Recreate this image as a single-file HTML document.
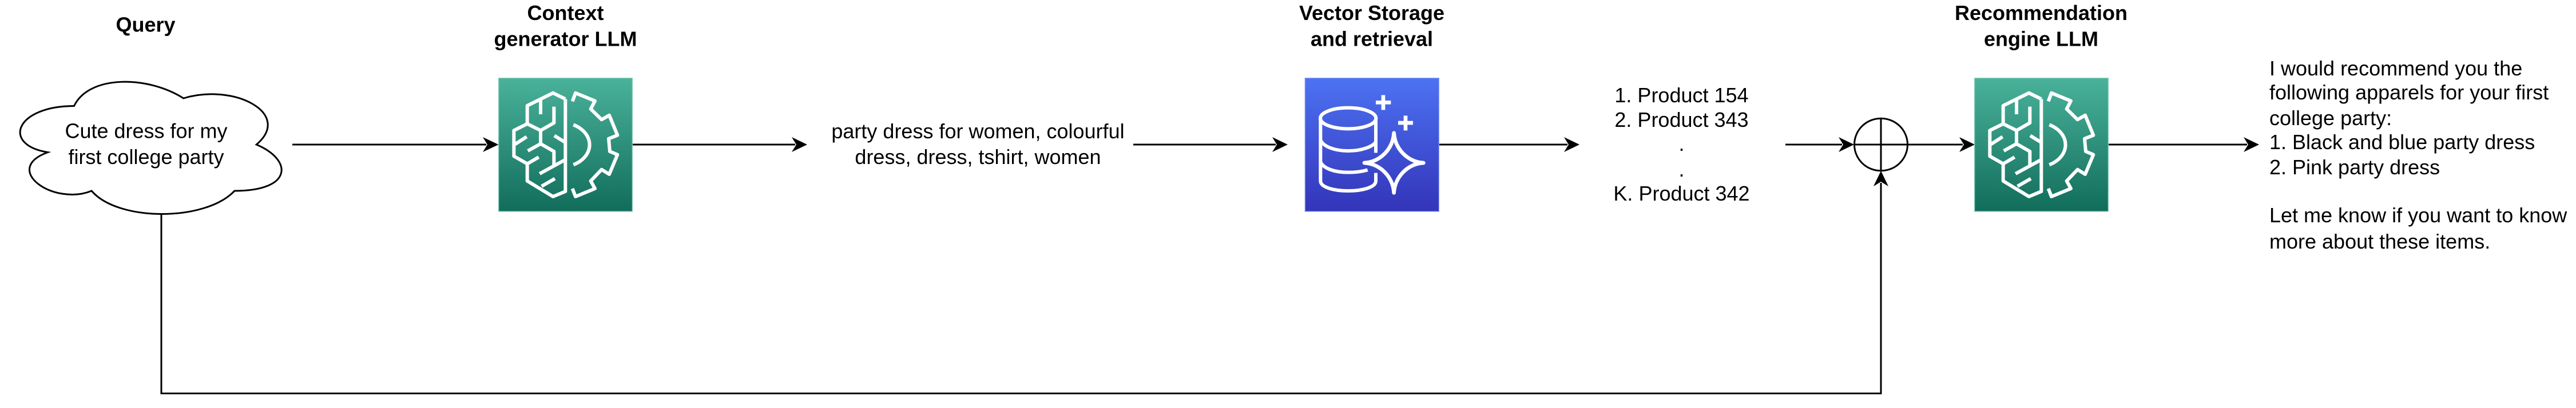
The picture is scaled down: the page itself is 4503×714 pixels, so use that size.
<!DOCTYPE html>
<html lang="en">
<head>
<meta charset="utf-8">
<title>Recommendation pipeline diagram</title>
<style>
html,body{margin:0;padding:0;background:#fff;width:4503px;height:714px;overflow:hidden}
svg{display:block}
text{font-family:"Liberation Sans",Arial,sans-serif;font-size:36px;fill:#000}
.c{text-anchor:middle}
.b{font-weight:bold}
.ln{fill:none;stroke:#000;stroke-width:3}
.ic{fill:none;stroke:#fff;stroke-width:18;stroke-linejoin:round}
</style>
</head>
<body>
<svg width="4503" height="714" viewBox="0 0 4503 714" xmlns="http://www.w3.org/2000/svg">
<defs>
<linearGradient id="g" x1="0" y1="0" x2="0" y2="1"><stop offset="0" stop-color="#4ab29a"/><stop offset="1" stop-color="#116d5b"/></linearGradient>
<linearGradient id="bl" x1="0" y1="0" x2="0" y2="1"><stop offset="0" stop-color="#4d72f3"/><stop offset="1" stop-color="#3334b9"/></linearGradient>
<g id="brain">
<rect x="65" y="50" width="701" height="700" fill="url(#g)" stroke="#86cbb9" stroke-width="4"/>
<g class="ic">
<path d="M415 160V645L350 672L215 590V500L145 460V325L215 290V195L350 128L415 160"/>
<path d="M215 290L285 325L355 285V200"/>
<path d="M215 500L275 465"/>
<path d="M285 165V240"/>
<path d="M285 325V395L218 432"/>
<path d="M285 395L355 435V510"/>
<path d="M280 552L415 478"/>
<path d="M290 618L360 578"/>
<path d="M150 398L212 358"/>
<path d="M357 352L415 388"/>
<path d="M457 295C570 340 570 460 457 505"/>
<path d="M452 172L468 128L570 170L548 212L605 268L645 245L688 350L642 368L648 435L688 452L645 555L605 530L548 590L570 630L468 672L452 630"/>
</g>
</g>
</defs>

<!-- cloud -->
<path class="ln" d="M129.5 185.500C27.500 185.500 2 253 83.600 266.500C2 296.200 93.800 361 160.100 334C206 388 359 388 410 334C512 334 512 280 448.250 253C512 199 410 145 320.750 172C257 131.500 155 131.500 129.500 185.500Z" fill="#fff"/>

<!-- connectors -->
<path class="ln" d="M511 253H850"/>
<path d="M871.500 253L844 240L852 253L844 266Z"/>
<path class="ln" d="M1105 253H1390"/>
<path d="M1411 253L1384 240L1392 253L1384 266Z"/>
<path class="ln" d="M1981 253H2230"/>
<path d="M2251 253L2224 240L2232 253L2224 266Z"/>
<path class="ln" d="M2515 253H2740"/>
<path d="M2761 253L2734 240L2742 253L2734 266Z"/>
<path class="ln" d="M3121 253H3220"/>
<path d="M3241 253L3214 240L3222 253L3214 266Z"/>
<path class="ln" d="M3335 253H3431"/>
<path d="M3452 253L3425 240L3433 253L3425 266Z"/>
<path class="ln" d="M3686 253H3928"/>
<path d="M3949 253L3922 240L3930 253L3922 266Z"/>
<path class="ln" d="M282 375V688.500H3288V320"/>
<path d="M3288 299L3275 326L3288 318L3301 326Z"/>

<!-- adder -->
<ellipse class="ln" cx="3288" cy="253" rx="46.500" ry="45.800"/>
<path class="ln" d="M3288 207V299M3241 253H3335"/>

<!-- icons -->
<g transform="translate(850 120) scale(.33333)"><use href="#brain"/></g>
<g transform="translate(3430 120) scale(.33333)"><use href="#brain"/></g>
<g transform="translate(2270 120) scale(.33333)">
<rect x="34" y="50" width="702" height="700" fill="url(#bl)" stroke="#8299f2" stroke-width="4"/>
<g class="ic">
<ellipse cx="260" cy="261" rx="146" ry="55"/>
<path d="M115 260V590C115 625 190 642 260 642C330 642 405 625 405 590V548"/>
<path d="M405 260V442"/>
<path d="M115 375C130 410 190 432 260 432C330 432 390 410 405 385"/>
<path d="M115 490C130 525 190 545 260 545C300 545 335 540 362 532"/>
<path d="M500 338C505 420 570 490 655 495C570 500 505 570 500 652C495 570 430 500 345 495C430 490 495 420 500 338Z" stroke-width="20"/>
<path d="M405 178H484M444 139V217M522 285H600M561 247V325" stroke-width="20"/>
</g>
</g>

<!-- headings -->
<text class="c b" x="254.500" y="55.500">Query</text>
<text class="c b" x="988.500" y="35">Context</text>
<text class="c b" x="988.500" y="80.500">generator LLM</text>
<text class="c b" x="2398" y="35">Vector Storage</text>
<text class="c b" x="2398" y="80.500">and retrieval</text>
<text class="c b" x="3568" y="35">Recommendation</text>
<text class="c b" x="3568" y="80.500">engine LLM</text>

<!-- body text -->
<text class="c" x="255.500" y="241.500">Cute dress for my</text>
<text class="c" x="255.500" y="287">first college party</text>
<text class="c" x="1709.500" y="242">party dress for women, colourful</text>
<text class="c" x="1709.500" y="287">dress, dress, tshirt, women</text>
<text class="c" x="2939.500" y="179">1. Product 154</text>
<text class="c" x="2939.500" y="222">2. Product 343</text>
<text class="c" x="2939.500" y="264">.</text>
<text class="c" x="2939.500" y="309">.</text>
<text class="c" x="2939.500" y="351">K. Product 342</text>
<text x="3967" y="132">I would recommend you the</text>
<text x="3967" y="174">following apparels for your first</text>
<text x="3967" y="219">college party:</text>
<text x="3967" y="261">1. Black and blue party dress</text>
<text x="3967" y="305">2. Pink party dress</text>
<text x="3967" y="389">Let me know if you want to know</text>
<text x="3967" y="435">more about these items.</text>
</svg>
</body>
</html>
